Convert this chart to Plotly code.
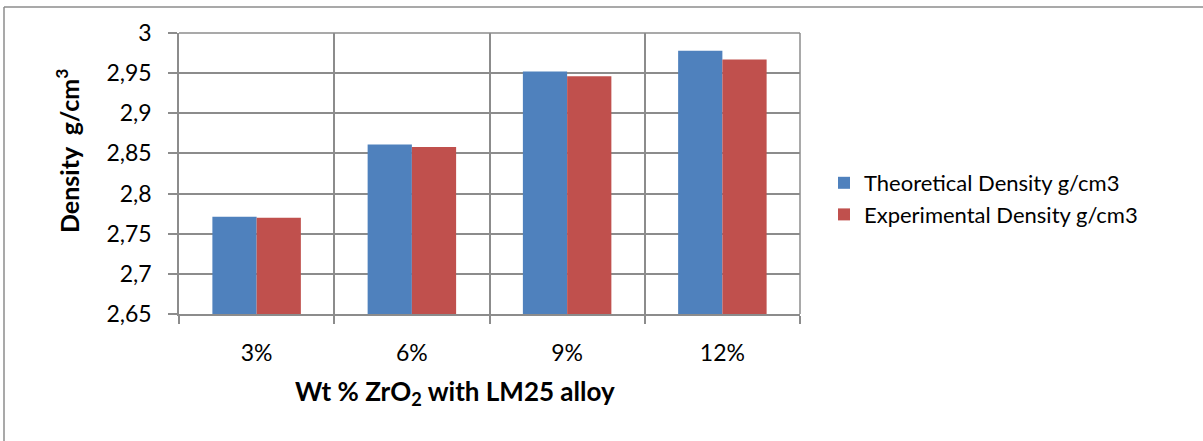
import plotly.graph_objects as go

# Data
categories = ["3%", "6%", "9%", "12%"]
theoretical = [2.771, 2.861, 2.952, 2.978]
experimental = [2.770, 2.858, 2.946, 2.967]
series_names = ["Theoretical Density g/cm3", "Experimental Density g/cm3"]

W, H = 1203, 441
L, R, T, B = 179, 800, 33, 314  # plot-area edges in pixels

def px_x(x):
    return (x - L) / (R - L)

def px_y(y):
    return (B - y) / (B - T)

FONT = "Lato, Calibri, Carlito, sans-serif"
GRID = "#8c8c8c"

fig = go.Figure()
fig.add_trace(go.Bar(x=categories, y=theoretical, name=series_names[0],
                     marker=dict(color="#4F81BD", line=dict(width=0))))
fig.add_trace(go.Bar(x=categories, y=experimental, name=series_names[1],
                     marker=dict(color="#C0504D", line=dict(width=0))))

fig.update_layout(
    width=W, height=H,
    margin=dict(l=L, r=W - R, t=T, b=H - B, pad=0),
    paper_bgcolor="white", plot_bgcolor="white",
    separators=",.",
    barmode="group", bargap=0.43, bargroupgap=0,
    font=dict(family=FONT, size=22, color="#000000"),
    showlegend=True,
    legend=dict(x=px_x(824), y=px_y(199), xanchor="left", yanchor="middle",
                font=dict(family=FONT, size=22), tracegroupgap=0,
                itemwidth=30, bgcolor="rgba(0,0,0,0)"),
    xaxis=dict(
        showline=True, linecolor=GRID, linewidth=1.5,
        showgrid=True, gridcolor=GRID, gridwidth=1.5,
        tickson="boundaries", ticks="outside", ticklen=8, tickcolor=GRID,
        tickwidth=1.5, tickfont=dict(family=FONT, size=23), mirror=False,
        ticklabelstandoff=18,
    ),
    yaxis=dict(
        range=[2.65, 3.0], dtick=0.05, tick0=2.65,
        showline=True, linecolor=GRID, linewidth=1.5,
        showgrid=True, gridcolor=GRID, gridwidth=1.5,
        ticks="outside", ticklen=9, tickcolor=GRID, tickwidth=1.5,
        tickfont=dict(family=FONT, size=23), zeroline=False,
        ticklabelstandoff=12,
    ),
    shapes=[
        dict(type="line", xref="paper", yref="paper",
             x0=px_x(4), x1=px_x(1210), y0=px_y(7), y1=px_y(7),
             line=dict(color=GRID, width=1.5)),
        dict(type="line", xref="paper", yref="paper",
             x0=px_x(4), x1=px_x(4), y0=px_y(7), y1=px_y(450),
             line=dict(color=GRID, width=1.5)),
        dict(type="line", xref="paper", yref="paper",
             x0=1, x1=1, y0=0, y1=1, line=dict(color=GRID, width=1.5)),
        dict(type="line", xref="paper", yref="paper",
             x0=0, x1=1, y0=1, y1=1, line=dict(color=GRID, width=1.5)),
    ],
    annotations=[
        dict(text="<b>Density  g/cm<sup>3</sup></b>", xref="paper", yref="paper",
             x=px_x(67), y=px_y(151), xanchor="center", yanchor="middle",
             textangle=-90, showarrow=False, font=dict(family=FONT, size=25)),
        dict(text="<b>Wt % ZrO<sub>2</sub> with LM25 alloy</b>", xref="paper", yref="paper",
             x=px_x(455), y=px_y(393), xanchor="center", yanchor="middle",
             showarrow=False, font=dict(family=FONT, size=26)),
    ],
)

fig.write_html("out.html")
